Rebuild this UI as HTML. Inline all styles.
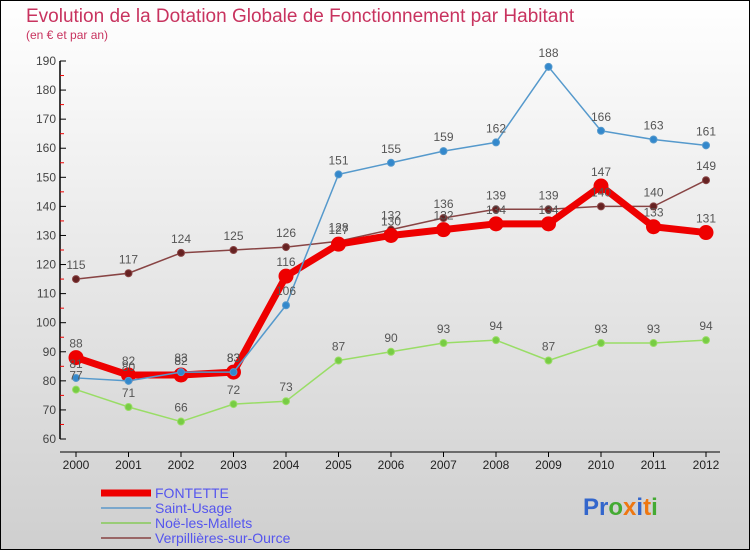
<!DOCTYPE html>
<html><head><meta charset="utf-8"><style>
body{margin:0;}
svg{display:block;font-family:"Liberation Sans","DejaVu Sans",sans-serif;}
</style></head><body>
<svg id="chart" width="750" height="550" viewBox="0 0 750 550">
<defs><linearGradient id="bg" x1="0" y1="0" x2="0" y2="1"><stop offset="0" stop-color="#ffffff"/><stop offset="1" stop-color="#cfcfcf"/></linearGradient></defs>
<rect x="0.5" y="0.5" width="749" height="549" fill="url(#bg)" stroke="#000"/>
<text x="26" y="22" font-size="19" fill="#c8335f">Evolution de la Dotation Globale de Fonctionnement par Habitant</text>
<text x="26" y="39" font-size="12" fill="#c8335f">(en € et par an)</text>
<g id="axes"></g><g id="series"></g><g id="labels"></g>
<g>
<line x1="101" y1="493" x2="151" y2="493" stroke="#ee0000" stroke-width="7"/>
<text x="155" y="498" font-size="14" fill="#5555ee">FONTETTE</text>
<line x1="101" y1="508" x2="151" y2="508" stroke="#7aa7cc" stroke-width="2"/>
<text x="155" y="513" font-size="14" fill="#5555ee">Saint-Usage</text>
<line x1="101" y1="523" x2="151" y2="523" stroke="#99cc77" stroke-width="2"/>
<text x="155" y="528" font-size="14" fill="#5555ee">Noë-les-Mallets</text>
<line x1="101" y1="538" x2="151" y2="538" stroke="#996666" stroke-width="2"/>
<text x="155" y="543" font-size="14" fill="#5555ee">Verpillières-sur-Ource</text>
</g>
<text x="583" y="515" font-size="24" font-weight="bold"><tspan fill="#3366cc">Pr</tspan><tspan fill="#44aa33">o</tspan><tspan fill="#ee7711">x</tspan><tspan fill="#3366cc">i</tspan><tspan fill="#ee7711">t</tspan><tspan fill="#44aa33">i</tspan></text>
</svg>
<script>
const years=[2000,2001,2002,2003,2004,2005,2006,2007,2008,2009,2010,2011,2012];
const fontette=[88,82,82,83,116,127,130,132,134,134,147,133,131];
const saintUsage=[81,80,83,83,106,151,155,159,162,188,166,163,161];
const noe=[77,71,66,72,73,87,90,93,94,87,93,93,94];
const verp=[115,117,124,125,126,128,132,136,139,139,140,140,149];
const yTicks=[60,70,80,90,100,110,120,130,140,150,160,170,180,190];
const NS="http://www.w3.org/2000/svg";
const X=i=>76+i*52.5;
const Y=v=>439-(v-60)*(378/130);
function mk(tag,attrs,parent){const e=document.createElementNS(NS,tag);for(const k in attrs)e.setAttribute(k,attrs[k]);parent.appendChild(e);return e;}
const axes=document.getElementById('axes'),ser=document.getElementById('series'),lab=document.getElementById('labels');
let a=mk('line',{x1:60,y1:Y(190),x2:60,y2:Y(60),stroke:'#000','stroke-width':1.5},axes);

a=mk('line',{x1:60,y1:Y(60)+13,x2:720,y2:Y(60)+13,stroke:'#000','stroke-width':1},axes);

yTicks.forEach(v=>{
 mk('line',{x1:60,y1:Y(v),x2:66,y2:Y(v),stroke:'#000'},axes);
 if(v<190){mk('line',{x1:60,y1:Y(v+5),x2:64,y2:Y(v+5),stroke:'#e00'},axes);}
 const t=mk('text',{x:56,y:Y(v)+4,'text-anchor':'end','font-size':12,fill:'#444'},axes);t.textContent=v;
 
});
years.forEach((yr,i)=>{
 mk('line',{x1:X(i),y1:Y(60)+13,x2:X(i),y2:Y(60)+18,stroke:'#000'},axes);
 const t=mk('text',{x:X(i),y:Y(60)+30,'text-anchor':'middle','font-size':12,fill:'#222'},axes);t.textContent=yr;
 
});
function draw(data,name,color,dot,w,r){
 const pl=mk('polyline',{points:data.map((v,i)=>X(i)+','+Y(v)).join(' '),fill:'none',stroke:color,'stroke-width':w,'stroke-linejoin':'round'},ser);
 
 data.forEach((v,i)=>{
  const c=mk('circle',{cx:X(i),cy:Y(v),r:r,fill:dot,stroke:color,'stroke-width':1},ser);
  
  const t=mk('text',{x:X(i),y:Y(v)-10,'text-anchor':'middle','font-size':12,fill:'#555'},lab);t.textContent=v;
  
 });
}
draw(noe,'noe-les-mallets','#99dd66','#77cc44',1.5,3.5);
draw(verp,'verpillieres','#884444','#662222',1.5,3.5);
draw(fontette,'fontette','#ee0000','#ee0000',7,7);
draw(saintUsage,'saint-usage','#5599cc','#3388cc',1.5,3.5);
</script>
</body></html>
